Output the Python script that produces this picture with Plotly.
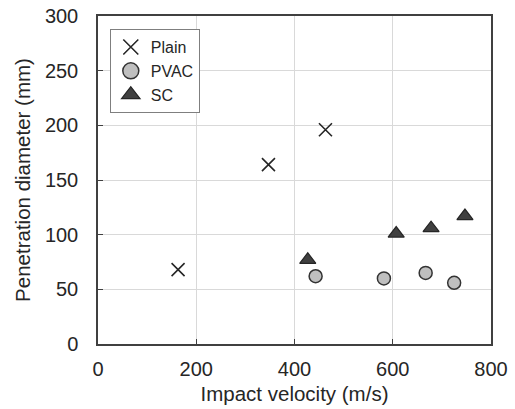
import plotly.graph_objects as go

plain_x = [163, 347, 463]
plain_y = [68, 164, 196]
pvac_x = [443, 582, 667, 725]
pvac_y = [62, 60, 65, 56]
sc_x = [427, 607, 678, 747]
sc_y = [77, 101, 106, 117]

x_ticks = [0, 200, 400, 600, 800]
y_ticks = [0, 50, 100, 150, 200, 250, 300]

FONT = "Liberation Sans, Arial, sans-serif"
TXT = "#262626"
AX = "#404040"

plain_marker = dict(symbol="x-thin", size=13, line=dict(width=1.6, color="#262626"))
pvac_marker = dict(symbol="circle", size=13, color="#bfbfbf", line=dict(width=1.5, color="#333333"))
sc_marker = dict(symbol="triangle-up", size=14, color="#404040", line=dict(width=1.2, color="#262626"))

fig = go.Figure()
fig.add_trace(go.Scatter(x=plain_x, y=plain_y, mode="markers", name="Plain",
                         marker=plain_marker, showlegend=False))
fig.add_trace(go.Scatter(x=pvac_x, y=pvac_y, mode="markers", name="PVAC",
                         marker=pvac_marker, showlegend=False))
fig.add_trace(go.Scatter(x=sc_x, y=sc_y, mode="markers", name="SC",
                         marker=sc_marker, showlegend=False))
# legend entries (larger symbols, as in the reference legend)
fig.add_trace(go.Scatter(x=[None], y=[None], mode="markers", name="Plain",
                         marker=dict(plain_marker, size=15)))
fig.add_trace(go.Scatter(x=[None], y=[None], mode="markers", name="PVAC",
                         marker=dict(pvac_marker, size=17)))
fig.add_trace(go.Scatter(x=[None], y=[None], mode="markers", name="SC",
                         marker=dict(sc_marker, size=17)))

fig.update_layout(
    width=515, height=409,
    margin=dict(l=98, r=24, t=16, b=65, autoexpand=False),
    paper_bgcolor="white", plot_bgcolor="white",
    font=dict(family=FONT, size=20, color=TXT),
    showlegend=True,
    legend=dict(x=0.03, y=0.96, xanchor="left", yanchor="top",
                bgcolor="white", bordercolor="#7f7f7f", borderwidth=1,
                font=dict(size=16, color=TXT), tracegroupgap=0,
                itemwidth=30),
    xaxis=dict(range=[0, 800], tickvals=x_ticks, ticks="inside", ticklen=5,
               tickcolor=AX, showline=True, linecolor=AX, linewidth=1.5, mirror=True,
               showgrid=True, gridcolor="#d9d9d9", gridwidth=1, zeroline=False,
               automargin=False, ticklabelstandoff=6,
               title=dict(text="Impact velocity (m/s)", font=dict(size=20.5), standoff=8),
               tickfont=dict(size=20)),
    yaxis=dict(range=[0, 300], tickvals=y_ticks, ticks="inside", ticklen=5,
               tickcolor=AX, showline=True, linecolor=AX, linewidth=1.5, mirror=True,
               showgrid=True, gridcolor="#d9d9d9", gridwidth=1, zeroline=False,
               automargin=False, ticklabelstandoff=14,
               title=dict(text="Penetration diameter (mm)", font=dict(size=20.5), standoff=9),
               tickfont=dict(size=20)),
)

fig.write_html("out.html", config={"displayModeBar": False},
               post_script="document.body.style.margin='0';")
